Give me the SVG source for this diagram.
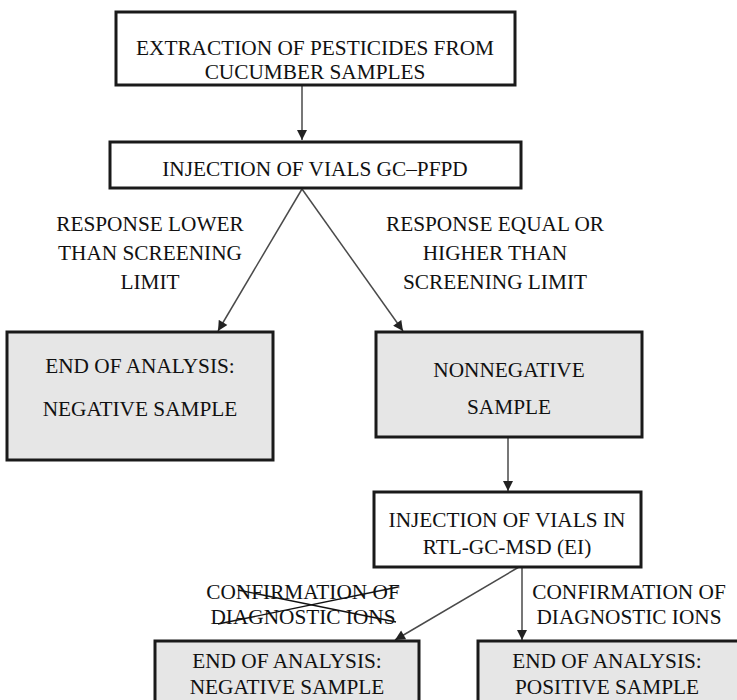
<svg xmlns="http://www.w3.org/2000/svg" width="737" height="700" viewBox="0 0 737 700">
  <defs>
    <marker id="arrow" viewBox="0 0 10 10" refX="10" refY="5" markerWidth="11" markerHeight="10" markerUnits="userSpaceOnUse" orient="auto">
      <path d="M0,0 L10,5 L0,10 Z" fill="#222"/>
    </marker>
    <style>
      .box { stroke: #1a1a1a; stroke-width: 3; }
      .white { fill: #ffffff; }
      .grey { fill: #e6e6e6; }
      .t { font-family: "Liberation Serif", "DejaVu Serif", serif; font-size: 21.3px; fill: #111; text-anchor: middle; }
      .edge { stroke: #4a4a4a; stroke-width: 1.5; fill: none; marker-end: url(#arrow); }
      .strike { stroke: #111; stroke-width: 1.4; }
    </style>
  </defs>
  <rect width="737" height="700" fill="#ffffff"/>

  <g id="connectors">
    <line class="edge" x1="302" y1="86" x2="302" y2="140"/>
    <line class="edge" x1="302" y1="189" x2="218" y2="331"/>
    <line class="edge" x1="302" y1="189" x2="403" y2="331"/>
    <line class="edge" x1="508" y1="438" x2="508" y2="491"/>
    <line class="edge" x1="519" y1="567" x2="395" y2="640"/>
    <line class="edge" x1="522" y1="567" x2="522" y2="640"/>
  </g>

  <g id="extraction">
    <rect class="box white" x="116" y="12" width="399" height="73"/>
    <text class="t" x="315" y="55">EXTRACTION OF PESTICIDES FROM</text>
    <text class="t" x="315" y="79">CUCUMBER SAMPLES</text>
  </g>

  <g id="injection-pfpd">
    <rect class="box white" x="110" y="142" width="411" height="46"/>
    <text class="t" x="315" y="176">INJECTION OF VIALS GC–PFPD</text>
  </g>

  <g id="label-lower">
    <text class="t" x="150" y="231">RESPONSE LOWER</text>
    <text class="t" x="150" y="260">THAN SCREENING</text>
    <text class="t" x="150" y="289">LIMIT</text>
  </g>

  <g id="label-higher">
    <text class="t" x="495" y="231">RESPONSE EQUAL OR</text>
    <text class="t" x="495" y="260">HIGHER THAN</text>
    <text class="t" x="495" y="289">SCREENING LIMIT</text>
  </g>

  <g id="negative-1">
    <rect class="box grey" x="7" y="332" width="266" height="128"/>
    <text class="t" x="140" y="373">END OF ANALYSIS:</text>
    <text class="t" x="140" y="416">NEGATIVE SAMPLE</text>
  </g>

  <g id="nonnegative">
    <rect class="box grey" x="376" y="332" width="266" height="105"/>
    <text class="t" x="509" y="377">NONNEGATIVE</text>
    <text class="t" x="509" y="414">SAMPLE</text>
  </g>

  <g id="injection-msd">
    <rect class="box white" x="374" y="492" width="267" height="75"/>
    <text class="t" x="507" y="527">INJECTION OF VIALS IN</text>
    <text class="t" x="507" y="554">RTL-GC-MSD (EI)</text>
  </g>

  <g id="label-no-confirmation">
    <text class="t" x="303" y="599">CONFIRMATION OF</text>
    <text class="t" x="303" y="624">DIAGNOSTIC IONS</text>
    <line class="strike" x1="218" y1="624" x2="398" y2="587"/>
    <line class="strike" x1="238" y1="590" x2="396" y2="622"/>
  </g>

  <g id="label-confirmation">
    <text class="t" x="629" y="599">CONFIRMATION OF</text>
    <text class="t" x="629" y="624">DIAGNOSTIC IONS</text>
  </g>

  <g id="negative-2">
    <rect class="box grey" x="155" y="641" width="264" height="70"/>
    <text class="t" x="287" y="668">END OF ANALYSIS:</text>
    <text class="t" x="287" y="694">NEGATIVE SAMPLE</text>
  </g>

  <g id="positive">
    <rect class="box grey" x="478" y="641" width="270" height="70"/>
    <text class="t" x="607" y="668">END OF ANALYSIS:</text>
    <text class="t" x="607" y="694">POSITIVE SAMPLE</text>
  </g>
</svg>
